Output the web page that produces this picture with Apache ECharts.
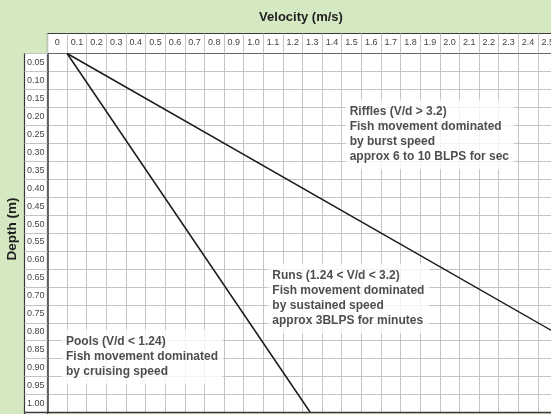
<!DOCTYPE html>
<html>
<head>
<meta charset="utf-8">
<script src="https://cdn.jsdelivr.net/npm/echarts@6/dist/echarts.min.js"></script>
<style>
  html, body { margin: 0; padding: 0; background: #d4e9c1; }
  #chart { width: 551px; height: 414px; }
</style>
</head>
<body>
<div id="chart"></div>
<script>
// Column headings (velocity, m/s) and row headings (depth, m)
const velocityLabels = ['0', '0.1', '0.2', '0.3', '0.4', '0.5', '0.6', '0.7', '0.8', '0.9', '1.0',
  '1.1', '1.2', '1.3', '1.4', '1.5', '1.6', '1.7', '1.8', '1.9', '2.0', '2.1', '2.2', '2.3', '2.4', '2.5'];
const depthLabels = ['0.05', '0.10', '0.15', '0.20', '0.25', '0.30', '0.35', '0.40', '0.45', '0.50',
  '0.55', '0.60', '0.65', '0.70', '0.75', '0.80', '0.85', '0.90', '0.95', '1.00'];

// Habitat boundaries as [velocity, depth] points: V/d = 3.2 and V/d = 1.24
const riffleBoundary = [[0, 0], [3.2, 1.0]];
const poolBoundary = [[0, 0], [1.24, 1.0]];

// Region notes, anchored at [velocity, depth] (top-left of each box)
const noteAnchors = [[1.42, 0.128], [1.026, 0.585], [-0.026, 0.769]];
const noteTexts = [
  'Riffles (V/d > 3.2)\nFish movement dominated\nby burst speed\napprox 6 to 10 BLPS for sec',
  'Runs (1.24 < V/d < 3.2)\nFish movement dominated\nby sustained speed\napprox 3BLPS for minutes',
  'Pools (V/d < 1.24)\nFish movement dominated\nby cruising speed'
];

const FONT = '"Liberation Sans", Arial, Helvetica, sans-serif';
const GRIDLINE = '#c4c4c4';
const BORDER = '#3a3a3a';

const chart = echarts.init(document.getElementById('chart'), null, { renderer: 'canvas' });

chart.setOption({
  backgroundColor: '#d4e9c1',
  animation: false,
  textStyle: { fontFamily: FONT },
  grid: {
    left: 47.5, top: 53.5, width: 510, height: 359,
    containLabel: false, outerBoundsMode: 'none',
    show: true, backgroundColor: '#ffffff', borderWidth: 0
  },
  graphic: {
    elements: [
      { type: 'rect', z: -5, shape: { x: 47.5, y: 33.5, width: 520, height: 20 },
        style: { fill: '#ffffff', stroke: BORDER, lineWidth: 1.2 } },
      { type: 'rect', z: -5, shape: { x: 24.5, y: 53.5, width: 23, height: 370 },
        style: { fill: '#ffffff', stroke: BORDER, lineWidth: 1.2 } },
      { type: 'line', z: 50, shape: { x1: 24.5, y1: 412.5, x2: 551, y2: 412.5 },
        style: { stroke: BORDER, lineWidth: 1.5 } },
      { type: 'text', z: 50, x: 301, y: 17,
        style: { text: 'Velocity (m/s)', font: 'bold 13px ' + FONT, fill: '#1e1e1e',
          align: 'center', verticalAlign: 'middle' } },
      { type: 'text', z: 50, x: 12, y: 229, rotation: Math.PI / 2,
        style: { text: 'Depth (m)', font: 'bold 13.5px ' + FONT, fill: '#1e1e1e',
          align: 'center', verticalAlign: 'middle' } }
    ]
  },
  xAxis: [
    {
      type: 'category', position: 'top', data: velocityLabels, boundaryGap: true,
      axisLine: { show: true, onZero: false, lineStyle: { color: '#666', width: 1.2 } },
      axisTick: { show: true, length: 20, interval: 0, lineStyle: { color: GRIDLINE } },
      axisLabel: { interval: 0, margin: 6, fontSize: 9, color: '#444', fontFamily: FONT },
      splitLine: { show: true, interval: 0, lineStyle: { color: GRIDLINE, width: 1 } }
    },
    {
      type: 'value', position: 'bottom', min: -0.1, max: 2.5,
      axisLine: { show: false, onZero: false }, axisTick: { show: false }, axisLabel: { show: false },
      splitLine: { show: false }
    }
  ],
  yAxis: [
    {
      type: 'category', position: 'left', inverse: true, data: depthLabels, boundaryGap: true,
      axisLine: { show: true, onZero: false, lineStyle: { color: BORDER, width: 1.5 } },
      axisTick: { show: true, length: 23, interval: 0, lineStyle: { color: GRIDLINE } },
      axisLabel: { interval: 0, margin: 3, fontSize: 9, color: '#444', fontFamily: FONT },
      splitLine: { show: true, interval: 0, lineStyle: { color: GRIDLINE, width: 1 } }
    },
    {
      type: 'value', inverse: true, min: 0, max: 1,
      axisLine: { show: false, onZero: false }, axisTick: { show: false }, axisLabel: { show: false },
      splitLine: { show: false }
    }
  ],
  series: [
    {
      name: 'V/d = 3.2', type: 'line', xAxisIndex: 1, yAxisIndex: 1,
      data: riffleBoundary, symbol: 'none', clip: true, z: 5,
      lineStyle: { color: '#1a1a1a', width: 1.5 }
    },
    {
      name: 'V/d = 1.24', type: 'line', xAxisIndex: 1, yAxisIndex: 1,
      data: poolBoundary, symbol: 'none', clip: true, z: 5,
      lineStyle: { color: '#1a1a1a', width: 1.5 }
    },
    {
      name: 'notes', type: 'scatter', xAxisIndex: 1, yAxisIndex: 1, z: 10,
      symbolSize: 0, silent: true,
      data: noteAnchors.map((p, i) => ({ value: p, note: noteTexts[i] })),
      label: {
        show: true, position: [0, 0], align: 'left', verticalAlign: 'top',
        formatter: (p) => p.data.note,
        fontFamily: FONT, fontWeight: 'bold', fontSize: 12, lineHeight: 15,
        color: '#222222', backgroundColor: '#ffffff', padding: [5, 5, 5, 4]
      }
    }
  ]
});
</script>
</body>
</html>
